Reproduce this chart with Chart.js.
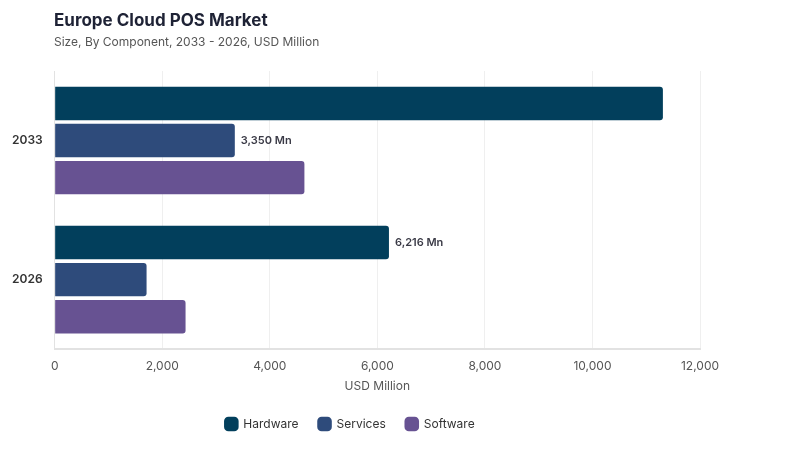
<!DOCTYPE html>
<html>
<head>
<meta charset="utf-8">
<script src="https://cdn.jsdelivr.net/npm/chart.js@4/dist/chart.umd.min.js"></script>
<style>
  html, body { margin: 0; padding: 0; background: #fff; }
  #wrap { position: relative; width: 800px; height: 450px; font-family: Inter, "Open Sans", sans-serif; }
  #title { position: absolute; left: 54px; top: 10px; font-size: 17px; font-weight: 700; color: #1e2235; }
  #subtitle { position: absolute; left: 54px; top: 34px; font-size: 12px; color: #555; }
  canvas { position: absolute; left: 0; top: 0; }
</style>
</head>
<body>
<div id="wrap">
  <canvas id="myChart" width="800" height="450"></canvas>
  <div id="title">Europe Cloud POS Market</div>
  <div id="subtitle">Size, By Component, 2033 - 2026, USD Million</div>
</div>
<script>
const years = ['2033', '2026'];
const hardware = [11310, 6216];
const services = [3350, 1709];
const software = [4644, 2434];
const xTicks = [0, 2000, 4000, 6000, 8000, 10000, 12000];

// only these bars carry a value label in the original
const labelled = [
    { dataset: 1, index: 0 },
    { dataset: 0, index: 1 }
];

const valueLabels = {
    id: 'valueLabels',
    afterDatasetsDraw(chart) {
        const c = chart.ctx;
        c.save();
        c.font = '600 11px Inter, sans-serif';
        c.fillStyle = '#3a3a46';
        c.textBaseline = 'middle';
        c.textAlign = 'left';
        labelled.forEach(l => {
            const bar = chart.getDatasetMeta(l.dataset).data[l.index];
            const v = chart.data.datasets[l.dataset].data[l.index];
            c.fillText(v.toLocaleString('en-US') + ' Mn', bar.x + 6, bar.y);
        });
        c.restore();
    }
};

const ctx = document.getElementById('myChart').getContext('2d');
const myChart = new Chart(ctx, {
    type: 'bar',
    data: {
        labels: years,
        datasets: [
            { label: 'Hardware', data: hardware, backgroundColor: '#023f5c' },
            { label: 'Services', data: services, backgroundColor: '#2e4b7b' },
            { label: 'Software', data: software, backgroundColor: '#675292' }
        ]
    },
    options: {
        indexAxis: 'y',
        responsive: false,
        animation: false,
        layout: { padding: { left: 0, right: 100, top: 71, bottom: 10 } },
        datasets: {
            bar: {
                categoryPercentage: 0.8,
                barPercentage: 0.9,
                borderRadius: 3,
                borderSkipped: 'start'
            }
        },
        scales: {
            x: {
                min: 0,
                max: 12000,
                afterBuildTicks(axis) { axis.ticks = xTicks.map(v => ({ value: v })); },
                grid: { color: '#efefef', drawTicks: false },
                border: { color: '#e2e2e2', width: 2 },
                ticks: {
                    padding: 10,
                    color: '#555',
                    font: { family: 'Inter', size: 12 },
                    callback: v => v.toLocaleString('en-US')
                },
                title: {
                    display: true,
                    text: 'USD Million',
                    color: '#555',
                    font: { family: 'Inter', size: 12 },
                    padding: { top: -4, bottom: 4 }
                }
            },
            y: {
                grid: { display: false, drawTicks: false },
                border: { color: '#e2e2e2', width: 1 },
                ticks: {
                    padding: 12,
                    color: '#333',
                    font: { family: 'Inter', size: 12, weight: '600' }
                }
            }
        },
        plugins: {
            legend: {
                position: 'bottom',
                labels: {
                    usePointStyle: true,
                    pointStyle: 'rectRounded',
                    boxWidth: 14,
                    boxHeight: 14,
                    padding: 20,
                    color: '#333',
                    font: { family: 'Inter', size: 12 }
                }
            },
            tooltip: { enabled: false }
        }
    },
    plugins: [valueLabels]
});
</script>
</body>
</html>
